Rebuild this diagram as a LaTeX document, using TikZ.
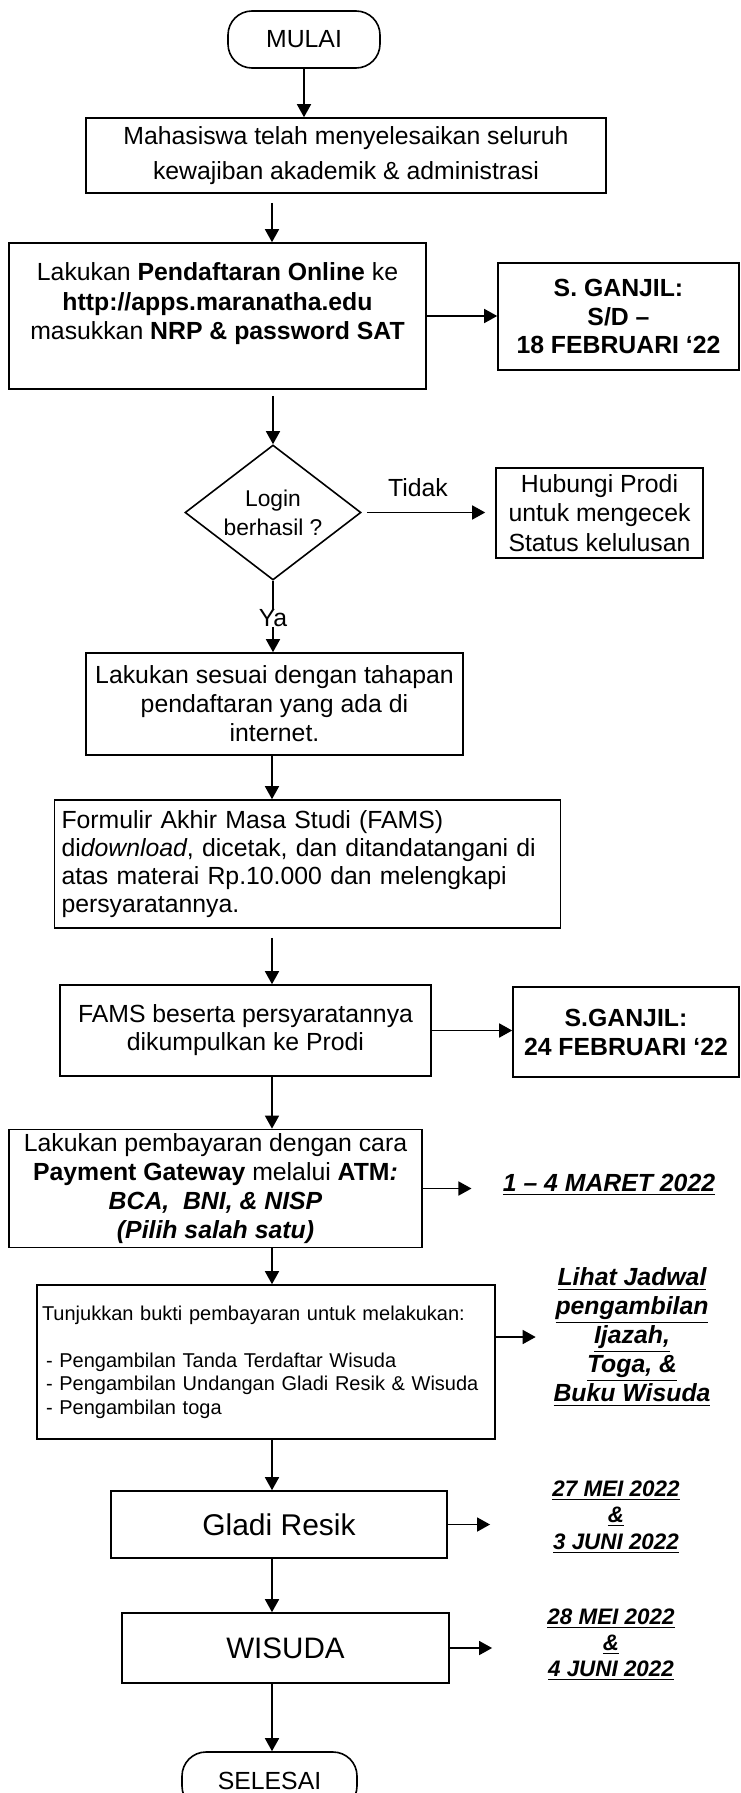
\documentclass[tikz,border=0pt]{standalone}
\usepackage{fontspec}
\setmainfont{Liberation Sans}
\usepackage{tikz}
\usetikzlibrary{arrows.meta,shapes.geometric}

\newcommand{\garis}[1]{\underline{#1}}

\begin{document}
\begin{tikzpicture}[x=0.5pt,y=-0.5pt,
	every node/.style={font=\fontsize{12.4}{14.6}\selectfont},
	kotak/.style={draw,line width=0.8pt,align=center,inner sep=2pt},
	ujung/.style={kotak,rounded corners=12pt},
	panah/.style={->,>={Triangle[length=6.5pt,width=7pt]},line width=0.8pt},
	tanggal/.style={align=center,inner sep=3pt,font=\fontsize{12.4}{14.5}\selectfont\bfseries\itshape}]
	
	\useasboundingbox (0,0) rectangle (740,1793);
	\fill[white] (0,0) rectangle (740,1793);
	\clip (0,0) rectangle (740,1793);
	
	\node (mulai) at (304,39.5)[ujung,minimum width=76pt,minimum height=28.5pt] {MULAI};
	\node (lulus) at (346,155.5)[kotak,minimum width=260pt,minimum height=37.5pt,font=\fontsize{12.4}{17.5}\selectfont] {Mahasiswa telah menyelesaikan seluruh\\kewajiban akademik \& administrasi};
	\node (daftar) at (217.5,316)[kotak,minimum width=208.5pt,minimum height=73pt,font=\fontsize{12.4}{14.75}\selectfont] {Lakukan \textbf{Pendaftaran Online} ke\\\textbf{http://apps.maranatha.edu}\\masukkan \textbf{NRP \& password SAT}\\\mbox{}};
	\node (tgl1) at (618.5,316.5)[kotak,minimum width=120.5pt,minimum height=53.5pt,font=\fontsize{12.4}{14.25}\selectfont\bfseries] {S. GANJIL:\\S/D –\\18 FEBRUARI ‘22};
	
	\node (login) at (273,512.5)[kotak,diamond,aspect=1.3,inner sep=0pt,minimum width=88pt,minimum height=67.5pt,font=\fontsize{11.4}{14.5}\selectfont] {Login\\berhasil ?};
	\node (tidak) at (418,488) {Tidak};
	\node (hubungi) at (599.5,513)[kotak,minimum width=103.5pt,minimum height=45pt,font=\fontsize{12.4}{14.75}\selectfont] {Hubungi Prodi\\untuk mengecek\\Status kelulusan};
	\node (ya) at (273,618)[inner sep=0pt] {Ya};
	
	\node (tahap) at (274.5,704)[kotak,minimum width=188.5pt,minimum height=51pt,font=\fontsize{12.4}{14.5}\selectfont] {Lakukan sesuai dengan tahapan\\pendaftaran yang ada di\\internet.};
	\node (fams) at (307.5,864)[kotak,minimum height=64pt,text width=246pt,align=left,inner xsep=3.5pt,font=\fontsize{12.4}{14}\selectfont] {Formulir Akhir Masa Studi (FAMS)\\di\textit{download}, dicetak, dan ditandatangani di\\atas materai Rp.10.000 dan melengkapi\\persyaratannya.};
	\node (kumpul) at (245.5,1030.5)[kotak,minimum width=185.5pt,minimum height=45.5pt,font=\fontsize{12.4}{14}\selectfont] {FAMS beserta persyaratannya\\dikumpulkan ke Prodi};
	\node (tgl2) at (626,1032)[kotak,minimum width=113pt,minimum height=45pt,font=\fontsize{12.4}{14.5}\selectfont\bfseries] {S.GANJIL:\\24 FEBRUARI ‘22};
	
	\node (bayar) at (215.5,1188.5)[kotak,minimum width=206.5pt,minimum height=58.5pt,font=\fontsize{12.4}{14.5}\selectfont] {Lakukan pembayaran dengan cara\\\textbf{Payment Gateway} melalui \textbf{ATM\textit{:}}\\\textbf{\textit{BCA,~ BNI, \& NISP}}\\\textbf{\textit{(Pilih salah satu)}}};
	\node (maret) at (609,1185)[tanggal] {\garis{1 – 4 MARET 2022}};
	
	\node (bukti) at (266,1362)[kotak,minimum height=77pt,text width=224pt,align=left,inner xsep=2.5pt,font=\fontsize{10}{11.75}\selectfont] {Tunjukkan bukti pembayaran untuk melakukan:\\\mbox{}\\\hspace*{2pt}- Pengambilan Tanda Terdaftar Wisuda\\\hspace*{2pt}- Pengambilan Undangan Gladi Resik \& Wisuda\\\hspace*{2pt}- Pengambilan toga};
	\node (lihat) at (632,1337)[tanggal] {\garis{Lihat Jadwal}\\\garis{pengambilan}\\\garis{Ijazah,}\\\garis{Toga, \&}\\\garis{Buku Wisuda}};
	
	\node (gladi) at (279,1524.5)[kotak,minimum width=168pt,minimum height=33.5pt,font=\fontsize{15}{18}\selectfont] {Gladi Resik};
	\node (tgl3) at (616,1517)[tanggal,font=\fontsize{11.2}{13.25}\selectfont\bfseries\itshape] {\garis{27 MEI 2022}\\\garis{\&}\\\garis{3 JUNI 2022}};
	\node (wisuda) at (285.5,1648)[kotak,minimum width=163.5pt,minimum height=35pt,font=\fontsize{14.8}{18}\selectfont] {WISUDA};
	\node (tgl4) at (611,1645)[tanggal,font=\fontsize{11.2}{13}\selectfont\bfseries\itshape] {\garis{28 MEI 2022}\\\garis{\&}\\\garis{4 JUNI 2022}};
	\node (selesai) at (269.5,1781)[ujung,minimum width=87.5pt,minimum height=29pt] {SELESAI};
	
	\coordinate (jalur) at (272,0);
	
	\draw[panah] (mulai.south) -- (mulai.south |- lulus.north);
	\draw[panah,shorten <=4.5pt] (lulus.south -| jalur) -- (daftar.north -| jalur);
	\draw[panah] (daftar.east) -- (daftar.east -| tgl1.west);
	\draw[panah,shorten <=3pt] (daftar.south -| login.north) -- (login.north);
	\draw[panah,shorten <=2.5pt,shorten >=5pt] (login.east) -- (login.east -| hubungi.west);
	\draw[line width=0.8pt] (login.south) -- (login.south |- ya.north);
	\draw[panah] (ya.south) -- (ya.south |- tahap.north);
	\draw[panah] (tahap.south -| jalur) -- (fams.north -| jalur);
	\draw[panah,shorten <=4.5pt] (fams.south -| jalur) -- (kumpul.north -| jalur);
	\draw[panah] (kumpul.east) -- (kumpul.east -| tgl2.west);
	\draw[panah] (kumpul.south -| jalur) -- (bayar.north -| jalur);
	\draw[panah,shorten >=12.5pt] (bayar.east) -- (bayar.east -| maret.west);
	\draw[panah] (bayar.south -| jalur) -- (bukti.north -| jalur);
	\draw[panah,shorten >=5.75pt] (bukti.east |- lihat) -- (lihat.west);
	\draw[panah] (bukti.south -| jalur) -- (gladi.north -| jalur);
	\draw[panah,shorten >=28pt] (gladi.east) -- (gladi.east -| tgl3.west);
	\draw[panah] (gladi.south -| jalur) -- (wisuda.north -| jalur);
	\draw[panah,shorten >=24.5pt] (wisuda.east) -- (wisuda.east -| tgl4.west);
	\draw[panah] (wisuda.south -| jalur) -- (selesai.north -| jalur);
	
\end{tikzpicture}
\end{document}
